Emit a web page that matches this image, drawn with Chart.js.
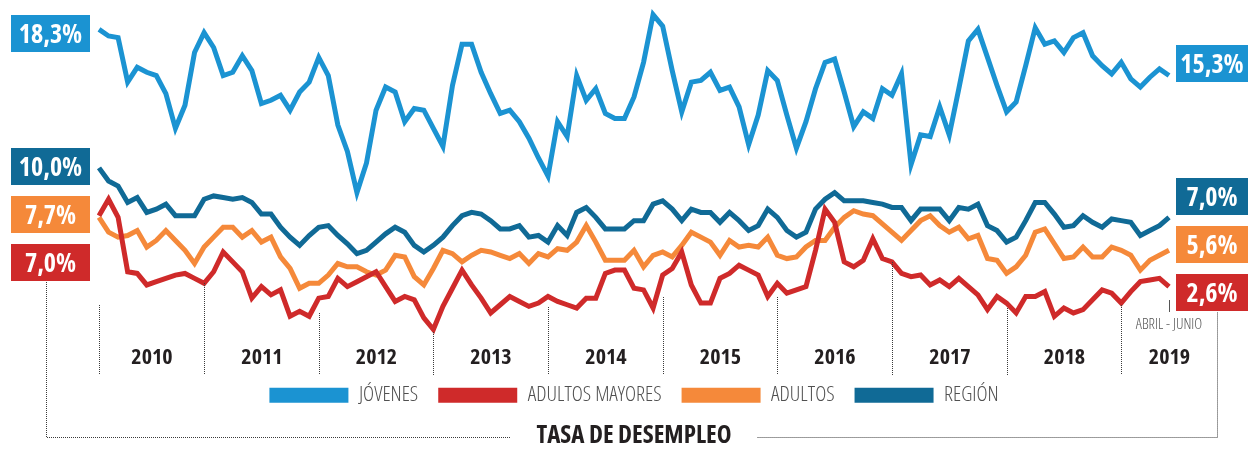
<!DOCTYPE html>
<html><head><meta charset="utf-8">
<script src="https://cdn.jsdelivr.net/npm/chart.js@4.4.1/dist/chart.umd.min.js"></script>
<style>html,body{margin:0;padding:0;background:#fff;}canvas{display:block;}</style>
</head><body>
<canvas id="c" width="1248" height="450" style="width:1248px;height:450px"></canvas>
<script>
// Moving quarters (trimestres móviles), DEF 2010 ... AMJ 2019
const categories = [
 'DEF 2010','EFM 2010','FMA 2010','MAM 2010','AMJ 2010','MJJ 2010','JJA 2010','JAS 2010','ASO 2010','SON 2010','OND 2010',
 'NDE 2011','DEF 2011','EFM 2011','FMA 2011','MAM 2011','AMJ 2011','MJJ 2011','JJA 2011','JAS 2011','ASO 2011','SON 2011','OND 2011',
 'NDE 2012','DEF 2012','EFM 2012','FMA 2012','MAM 2012','AMJ 2012','MJJ 2012','JJA 2012','JAS 2012','ASO 2012','SON 2012','OND 2012',
 'NDE 2013','DEF 2013','EFM 2013','FMA 2013','MAM 2013','AMJ 2013','MJJ 2013','JJA 2013','JAS 2013','ASO 2013','SON 2013','OND 2013',
 'NDE 2014','DEF 2014','EFM 2014','FMA 2014','MAM 2014','AMJ 2014','MJJ 2014','JJA 2014','JAS 2014','ASO 2014','SON 2014','OND 2014',
 'NDE 2015','DEF 2015','EFM 2015','FMA 2015','MAM 2015','AMJ 2015','MJJ 2015','JJA 2015','JAS 2015','ASO 2015','SON 2015','OND 2015',
 'NDE 2016','DEF 2016','EFM 2016','FMA 2016','MAM 2016','AMJ 2016','MJJ 2016','JJA 2016','JAS 2016','ASO 2016','SON 2016','OND 2016',
 'NDE 2017','DEF 2017','EFM 2017','FMA 2017','MAM 2017','AMJ 2017','MJJ 2017','JJA 2017','JAS 2017','ASO 2017','SON 2017','OND 2017',
 'NDE 2018','DEF 2018','EFM 2018','FMA 2018','MAM 2018','AMJ 2018','MJJ 2018','JJA 2018','JAS 2018','ASO 2018','SON 2018','OND 2018',
 'NDE 2019','DEF 2019','EFM 2019','FMA 2019','MAM 2019','AMJ 2019'
];
const yearLabels = ['2010','2011','2012','2013','2014','2015','2016','2017','2018','2019'];
const seriesNames = ['JÓVENES','ADULTOS MAYORES','ADULTOS','REGIÓN'];

const jovenes = [
 18.4,18.0,17.9,15.2,16.1,15.8,15.6,14.5,12.4,13.8,
 17.0,18.2,17.3,15.6,15.8,16.8,15.9,13.9,14.1,14.4,
 13.5,14.6,15.2,16.7,15.6,12.6,11.0,8.5,10.3,13.5,
 14.9,14.6,12.8,13.6,13.5,12.4,11.3,15.0,17.5,17.5,
 15.8,14.5,13.3,13.5,12.8,11.8,10.6,9.5,12.8,11.9,
 15.6,14.1,14.8,13.3,13.0,13.0,14.3,16.4,19.3,18.6,
 15.9,13.4,15.2,15.3,15.8,14.7,14.9,13.7,11.4,13.2,
 15.9,15.3,13.2,11.2,12.8,14.8,16.4,16.6,14.6,12.5,
 13.4,13.0,14.8,14.4,15.7,10.2,12.0,11.9,13.7,12.0,
 14.8,17.7,18.4,16.7,15.0,13.4,14.0,16.2,18.5,17.5,
 17.7,17.0,17.9,18.2,16.8,16.2,15.7,16.4,15.4,14.9,
 15.5,16.0,15.6
];
const adultosMayores = [
 7.1,8.1,7.0,3.7,3.6,2.9,3.1,3.3,3.5,3.6,
 3.3,3.0,3.7,4.9,4.3,3.7,2.1,2.8,2.3,2.6,
 1.0,1.3,1.0,2.1,2.2,3.3,2.8,3.1,3.4,3.7,
 2.8,1.9,2.2,2.0,0.9,0.2,1.6,2.7,3.8,2.9,
 2.1,1.2,1.7,2.2,1.9,1.6,1.8,2.2,1.9,1.7,
 1.5,2.1,2.1,3.6,3.8,3.8,2.7,2.6,1.5,3.5,
 3.9,4.9,2.9,1.8,1.8,3.3,3.6,4.1,3.8,3.5,
 2.2,3.0,2.4,2.6,2.8,5.0,7.5,6.7,4.3,4.0,
 4.4,5.7,4.5,4.3,3.6,3.4,3.5,2.9,3.2,2.8,
 3.3,2.8,2.3,1.4,2.2,1.8,1.2,2.2,2.2,2.5,
 1.0,1.5,1.2,1.4,2.0,2.6,2.4,1.8,2.5,3.1,
 3.2,3.3,2.8
];
const adultos = [
 7.0,6.1,5.8,5.9,6.2,5.2,5.6,6.2,5.6,5.0,
 4.2,5.2,5.8,6.4,6.4,5.8,6.2,5.5,5.8,4.6,
 3.9,2.7,3.0,3.0,3.5,4.2,4.0,4.0,3.7,3.5,
 3.8,4.7,4.6,3.4,2.9,3.9,5.0,4.8,4.3,4.7,
 5.0,4.9,4.7,4.5,4.8,4.2,4.8,4.6,5.1,5.0,
 5.5,6.5,5.5,4.4,4.4,4.4,5.0,4.0,4.7,4.9,
 4.6,5.3,6.1,5.8,5.5,4.7,5.6,5.2,5.3,5.2,
 5.8,4.7,4.5,4.6,5.2,5.6,5.6,6.4,7.0,7.4,
 7.2,7.1,6.6,6.1,5.6,6.2,6.8,7.1,6.5,6.1,
 6.4,5.7,5.9,4.5,4.4,3.6,4.0,4.7,6.1,6.3,
 5.4,4.5,4.6,5.2,4.6,4.6,5.2,5.0,4.7,3.8,
 4.4,4.7,5.0
];
const region = [
 10.0,9.2,8.9,7.9,8.2,7.3,7.5,7.8,7.1,7.1,
 7.1,8.1,8.3,8.2,8.1,8.2,7.9,7.2,7.2,6.4,
 5.8,5.3,5.9,6.4,6.5,5.9,5.4,4.8,5.0,5.5,
 6.0,6.4,6.1,5.3,4.9,5.3,5.8,6.5,7.1,7.3,
 7.2,6.8,6.3,6.3,6.5,5.8,5.9,5.5,6.5,5.9,
 7.3,7.6,7.0,6.3,6.3,6.3,6.8,6.8,7.8,8.0,
 7.5,6.8,7.5,7.3,7.3,6.7,7.3,6.8,6.2,6.5,
 7.5,7.0,6.2,5.8,6.1,7.5,8.1,8.5,8.0,8.0,
 8.0,7.9,7.8,7.6,7.6,6.8,7.5,7.5,7.5,6.8,
 7.6,7.5,7.8,6.5,6.2,5.5,5.8,6.8,7.9,7.9,
 7.2,6.4,6.5,7.1,6.7,6.4,6.9,6.8,6.7,5.9,
 6.2,6.5,7.0
];
const startLabels = ['18,3%','7,0%','7,7%','10,0%'];
const endLabels = ['15,3%','2,6%','5,6%','7,0%'];
const noteLabel = 'ABRIL - JUNIO';
const titleText = 'TASA DE DESEMPLEO';

const colors = ['#1b93d2','#cf2a2a','#f5893a','#106a96'];
const FAM = '"Open Sans"';
const BOLDC = 'bold condensed';
const LIGHTC = '300 condensed';

// layout constants for decorations
const leftBoxTop = [15, 244, 196, 148];
const rightBoxTop = [45, 274, 226, 178];
const sepTop = [305, 283, 313, 332, 307, 297, 297, 262, 308, 305];

const deco = {
  id: 'deco',
  afterDraw(chart) {
    const {ctx, chartArea: ca, scales: {x}} = chart;
    ctx.save();
    const sepIdx = [];
    categories.forEach((c, i) => { if (i === 0 || c.startsWith('NDE')) sepIdx.push(i); });
    const bracketRight = ca.right + 48.5;
    ctx.strokeStyle = '#3a3a3a';
    ctx.lineWidth = 1;
    ctx.setLineDash([1, 1]);
    const sx = sepIdx.map(i => Math.round(x.getPixelForValue(i)) + 0.5);
    sx.forEach((px, k) => {
      ctx.beginPath(); ctx.moveTo(px, sepTop[k]); ctx.lineTo(px, 375); ctx.stroke();
    });
    // bracket around the title
    const t = chart.titleBlock;
    ctx.font = BOLDC + ' 25px ' + FAM;
    const tw = ctx.measureText(titleText).width;
    const tc = (t.left + t.right) / 2;
    ctx.beginPath();
    ctx.moveTo(46.5, 282); ctx.lineTo(46.5, 437.5); ctx.lineTo(tc - tw / 2 - 26, 437.5);
    ctx.moveTo(tc + tw / 2 + 26, 437.5); ctx.lineTo(bracketRight, 437.5); ctx.lineTo(bracketRight, 312);
    ctx.stroke();
    ctx.setLineDash([]);
    // year labels
    ctx.fillStyle = '#231f20';
    ctx.font = BOLDC + ' 22px ' + FAM;
    ctx.textAlign = 'center';
    ctx.textBaseline = 'alphabetic';
    const bounds = sx.concat([bracketRight]);
    yearLabels.forEach((yl, k) => {
      ctx.fillText(yl, (bounds[k] + bounds[k + 1]) / 2, 364);
    });
    // ABRIL - JUNIO note
    const lastX = x.getPixelForValue(categories.length - 1);
    ctx.strokeStyle = '#555';
    ctx.beginPath(); ctx.moveTo(Math.round(lastX) + 0.5, 300); ctx.lineTo(Math.round(lastX) + 0.5, 312); ctx.stroke();
    ctx.fillStyle = '#555';
    ctx.font = LIGHTC + ' 15px ' + FAM;
    ctx.fillText(noteLabel, lastX, 329);
    // value boxes
    ctx.font = BOLDC + ' 26px ' + FAM;
    for (let s = 0; s < 4; s++) {
      ctx.fillStyle = colors[s];
      ctx.fillRect(11, leftBoxTop[s], 79, 37);
      ctx.fillRect(1176, rightBoxTop[s], 72, 37);
      ctx.fillStyle = '#fff';
      ctx.fillText(startLabels[s], 50.5, leftBoxTop[s] + 28);
      ctx.fillText(endLabels[s], 1212, rightBoxTop[s] + 28);
    }
    ctx.restore();
  }
};

function build() {
  const series = [jovenes, adultosMayores, adultos, region];
  new Chart(document.getElementById('c'), {
    type: 'line',
    data: {
      labels: categories,
      datasets: series.map((d, i) => ({
        label: seriesNames[i],
        data: d,
        borderColor: colors[i],
        backgroundColor: colors[i],
        borderWidth: 5,
        pointRadius: 0,
        tension: 0,
        fill: false,
        clip: false
      }))
    },
    options: {
      responsive: false,
      animation: false,
      layout: { padding: { left: 99, right: 79, top: 3, bottom: 0 } },
      scales: {
        x: { type: 'category', display: false, offset: false },
        y: { display: false, min: -1.9394, max: 20 }
      },
      plugins: {
        tooltip: { enabled: false },
        legend: {
          position: 'bottom',
          labels: {
            boxWidth: 79, boxHeight: 15, padding: 20,
            color: '#505050',
            font: { family: FAM, size: 21, weight: LIGHTC },
            generateLabels(chart) {
              return Chart.defaults.plugins.legend.labels.generateLabels(chart).map(l => Object.assign(l, { lineWidth: 0 }));
            }
          }
        },
        title: {
          display: true, position: 'bottom', text: titleText,
          color: '#231f20',
          font: { family: FAM, size: 25, weight: BOLDC, lineHeight: 1.1 },
          padding: { top: 6.75, bottom: 0 }
        }
      }
    },
    plugins: [deco]
  });
}
const fl = ['bold condensed 24px "Open Sans"', '300 condensed 20px "Open Sans"'];
Promise.all(fl.map(f => document.fonts.load(f))).then(build, build);
</script>
</body></html>
